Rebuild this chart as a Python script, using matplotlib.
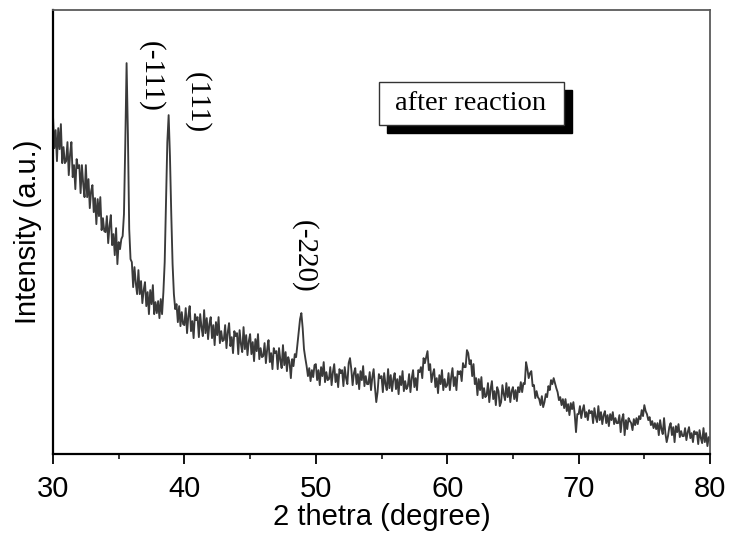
import numpy as np
import matplotlib.pyplot as plt
from matplotlib.patches import Rectangle
from matplotlib.ticker import MultipleLocator

# Scansione XRD: passo 0.1 gradi da 30 a 80
scan_start = 30.0
scan_step = 0.1

# Intensita' (unita' arbitrarie), una riga per grado
intensity = [
    338, 306, 324, 293, 326, 305, 330, 291, 307, 291,   # 30
    293, 312, 279, 300, 312, 277, 289, 265, 295, 286,   # 31
    289, 261, 289, 270, 257, 289, 257, 275, 246, 263,   # 32
    269, 242, 256, 230, 255, 238, 257, 224, 236, 223,   # 33
    222, 238, 211, 228, 239, 209, 220, 199, 226, 190,   # 34
    212, 205, 215, 218, 240, 310, 391, 320, 225, 195,   # 35
    192, 167, 187, 171, 160, 184, 160, 173, 151, 164,   # 36
    172, 148, 162, 140, 164, 150, 169, 140, 152, 141,   # 37
    153, 136, 155, 140, 162, 192, 252, 312, 339, 298,   # 38
    240, 190, 160, 145, 150, 132, 148, 128, 142, 130,   # 39
    129, 146, 121, 138, 148, 123, 133, 116, 140, 134,   # 40
    137, 117, 140, 127, 118, 144, 121, 136, 115, 130,   # 41
    137, 116, 129, 109, 132, 119, 137, 111, 123, 113,   # 42
    114, 129, 106, 122, 131, 108, 117, 101, 123, 118,   # 43
    121, 100, 124, 110, 102, 127, 105, 119, 99, 113,    # 44
    120, 100, 112, 93, 115, 103, 120, 95, 106, 97,      # 45
    98, 111, 91, 105, 114, 92, 101, 85, 106, 101,       # 46
    103, 85, 106, 94, 86, 109, 89, 102, 83, 97,         # 47
    92, 76, 95, 88, 100, 97, 110, 124, 135, 141,        # 48
    126, 105, 96, 88, 78, 86, 73, 84, 77, 89,           # 49
    90, 74, 84, 69, 87, 78, 92, 72, 82, 74,             # 50
    75, 87, 69, 82, 90, 72, 80, 67, 85, 81,             # 51
    84, 68, 87, 76, 70, 91, 96, 85, 69, 81,             # 52
    86, 70, 80, 65, 83, 74, 88, 68, 78, 70,             # 53
    70, 82, 64, 77, 85, 67, 52, 62, 80, 76,             # 54
    78, 62, 81, 70, 64, 85, 66, 79, 63, 75,             # 55
    81, 65, 75, 60, 78, 69, 83, 63, 73, 65,             # 56
    68, 80, 62, 76, 84, 67, 76, 64, 84, 82,             # 57
    87, 76, 96, 91, 97, 103, 84, 90, 72, 80,            # 58
    85, 67, 76, 61, 79, 70, 84, 64, 75, 67,             # 59
    69, 81, 64, 77, 86, 68, 77, 64, 83, 80,             # 60
    83, 73, 91, 87, 87, 104, 101, 90, 94, 78,           # 61
    90, 70, 76, 59, 75, 64, 77, 56, 66, 57,             # 62
    59, 71, 52, 65, 73, 55, 63, 49, 67, 63,             # 63
    48, 52, 69, 60, 54, 71, 57, 67, 52, 63,             # 64
    67, 55, 64, 53, 67, 62, 72, 62, 71, 70,             # 65
    92, 85, 76, 81, 83, 68, 69, 56, 63, 57,             # 66
    55, 49, 58, 47, 52, 60, 57, 68, 64, 74,             # 67
    70, 76, 71, 66, 62, 54, 57, 49, 55, 46,             # 68
    55, 43, 50, 39, 51, 45, 52, 40, 22, 40,             # 69
    40, 48, 36, 44, 49, 37, 42, 34, 44, 41,             # 70
    43, 31, 46, 37, 32, 48, 34, 42, 30, 39,             # 71
    43, 31, 39, 28, 40, 34, 42, 30, 36, 31,             # 72
    31, 39, 22, 35, 40, 19, 34, 25, 36, 33,             # 73
    31, 24, 35, 29, 36, 30, 38, 35, 44, 38,             # 74
    49, 43, 40, 34, 37, 29, 33, 26, 31, 25,             # 75
    31, 19, 34, 25, 20, 36, 21, 12, 18, 27,             # 76
    31, 19, 27, 12, 28, 22, 30, 17, 23, 18,             # 77
    18, 26, 14, 22, 27, 16, 21, 12, 23, 20,             # 78
    22, 10, 24, 16, 11, 26, 12, 21, 8, 17,              # 79
    14,                                                 # 80
]
two_theta = np.round(scan_start + scan_step * np.arange(len(intensity)), 1)

peak_labels = ["(-111)", "(111)", "(-220)"]
label_x = [37.5, 41.0, 49.1]
label_y = [378, 352, 198]

fig = plt.figure(figsize=(7.29, 5.33), dpi=100)
ax = fig.add_axes([0.0727, 0.148, 0.9013, 0.833])

ax.plot(two_theta, intensity, color='#3a3a3a', linewidth=1.35)

ax.set_xlim(30, 80)
ax.set_ylim(0, 444)
ax.xaxis.set_major_locator(MultipleLocator(10))
ax.xaxis.set_minor_locator(MultipleLocator(5))
ax.set_yticks([])
ax.tick_params(axis='x', which='major', direction='out', length=7, width=1.3,
               labelsize=21, pad=8)
ax.tick_params(axis='x', which='minor', direction='out', length=3.5, width=1.1)
for lab in ax.get_xticklabels():
    lab.set_family('Liberation Sans')

for side in ['left', 'bottom']:
    ax.spines[side].set_linewidth(1.6)
    ax.spines[side].set_color('black')
for side in ['top', 'right']:
    ax.spines[side].set_linewidth(1.3)
    ax.spines[side].set_color('#5a5a5a')

ax.set_xlabel('2 thetra (degree)', fontsize=21, family='Liberation Sans', labelpad=0)
ax.set_ylabel('Intensity (a.u.)', fontsize=21, family='Liberation Sans', labelpad=8)

for txt, lx, ly in zip(peak_labels, label_x, label_y):
    ax.text(lx, ly, txt, rotation=270, ha='center', va='center',
            fontsize=21, family='Liberation Serif')

# riquadro con ombra
ax.add_patch(Rectangle((0.508, 0.723), 0.282, 0.097, transform=ax.transAxes,
                       facecolor='black', edgecolor='black', zorder=3))
ax.add_patch(Rectangle((0.496, 0.741), 0.282, 0.097, transform=ax.transAxes,
                       facecolor='white', edgecolor='#333333', linewidth=1.0, zorder=4))
ax.text(0.636, 0.789, 'after reaction', transform=ax.transAxes, ha='center', va='center',
        fontsize=20.5, family='Liberation Serif', zorder=5)

plt.savefig('out.png', dpi=100)
